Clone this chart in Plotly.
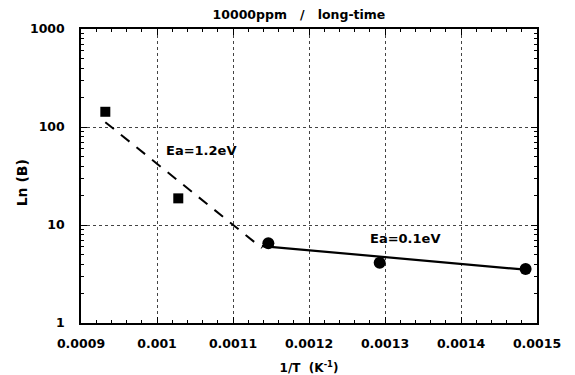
import math
import plotly.graph_objects as go

# data
square_x = [0.000932, 0.001028]
square_y = [143, 18.7]
circle_x = [0.0011465, 0.001293, 0.001485]
circle_y = [6.5, 4.12, 3.56]
dash_fit_x = [0.000932, 0.001138]
dash_fit_y = [112, 5.82]
solid_fit_x = [0.001138, 0.001485]
solid_fit_y = [6.1, 3.5]
x_ticks = [0.0009, 0.001, 0.0011, 0.0012, 0.0013, 0.0014, 0.0015]
x_tick_labels = ["0.0009", "0.001", "0.0011", "0.0012", "0.0013", "0.0014", "0.0015"]
y_ticks = [1, 10, 100, 1000]
y_tick_labels = ["1", "10", "100", "1000"]
label_a = ("Ea=1.2eV", 0.001058, 57)
label_b = ("Ea=0.1eV", 0.001326, 7.2)

FONT = "DejaVu Sans"

fig = go.Figure()
fig.add_trace(go.Scatter(x=dash_fit_x, y=dash_fit_y, mode="lines",
                         line=dict(color="black", width=2, dash="11px,9px"), showlegend=False))
fig.add_trace(go.Scatter(x=solid_fit_x, y=solid_fit_y, mode="lines",
                         line=dict(color="black", width=2.2), showlegend=False))
fig.add_trace(go.Scatter(x=square_x, y=square_y, mode="markers",
                         marker=dict(symbol="square", size=10, color="black"), showlegend=False))
fig.add_trace(go.Scatter(x=circle_x, y=circle_y, mode="markers",
                         marker=dict(symbol="circle", size=12, color="black"), showlegend=False))

for txt, xx, yy in (label_a, label_b):
    fig.add_annotation(x=xx, y=math.log10(yy), yref="y", xref="x", text="<b>%s</b>" % txt,
                       showarrow=False, font=dict(family=FONT, size=13, color="black"))

# y-axis title placed as rotated text left of the tick labels
fig.add_annotation(x=-0.1287, y=0.476, xref="paper", yref="paper", text="<b>Ln (B)</b>",
                   textangle=-90, showarrow=False, xanchor="center", yanchor="middle",
                   font=dict(family=FONT, size=14, color="black"))

fig.update_layout(
    width=575, height=375,
    margin=dict(l=80.5, r=37.5, t=29, b=52, autoexpand=False),
    paper_bgcolor="white", plot_bgcolor="white",
    font=dict(family=FONT, size=12, color="black"),
    title=dict(text="<b>10000ppm\u00a0\u00a0\u00a0/\u00a0\u00a0\u00a0long-time</b>", x=0.478, xanchor="center",
               xref="paper", y=0.96, yanchor="middle", font=dict(family=FONT, size=12.5, color="black")),
)
fig.update_xaxes(
    automargin=False,
    range=[0.0009, 0.0015], tickvals=x_ticks, ticktext=["<b>%s</b>" % t for t in x_tick_labels],
    showline=True, linecolor="black", linewidth=1.5, mirror="allticks",
    ticks="inside", ticklen=6, tickcolor="black", ticklabelstandoff=8,
    showgrid=True, gridcolor="#444", griddash="dot", gridwidth=1,
    zeroline=False,
    minor=dict(ticks="inside", ticklen=3, dtick=0.00002, tick0=0.0009, tickcolor="black", showgrid=False),
    title=dict(text="<b>1/T\u00a0\u00a0(K<sup>-1</sup>)</b>", font=dict(family=FONT, size=12)),
    tickfont=dict(family=FONT, size=12.5),
)
fig.update_yaxes(
    automargin=False,
    type="log", range=[0, 3], tickvals=y_ticks, ticktext=["<b>%s</b>" % t for t in y_tick_labels],
    showline=True, linecolor="black", linewidth=1.5, mirror="allticks",
    ticks="inside", ticklen=6, tickcolor="black", ticklabelstandoff=12,
    showgrid=True, gridcolor="#444", griddash="dot", gridwidth=1,
    zeroline=False,
    minor=dict(ticks="inside", ticklen=3, dtick="D1", tickcolor="black", showgrid=False),
    tickfont=dict(family=FONT, size=12.5),
)

fig.write_html("out.html")
